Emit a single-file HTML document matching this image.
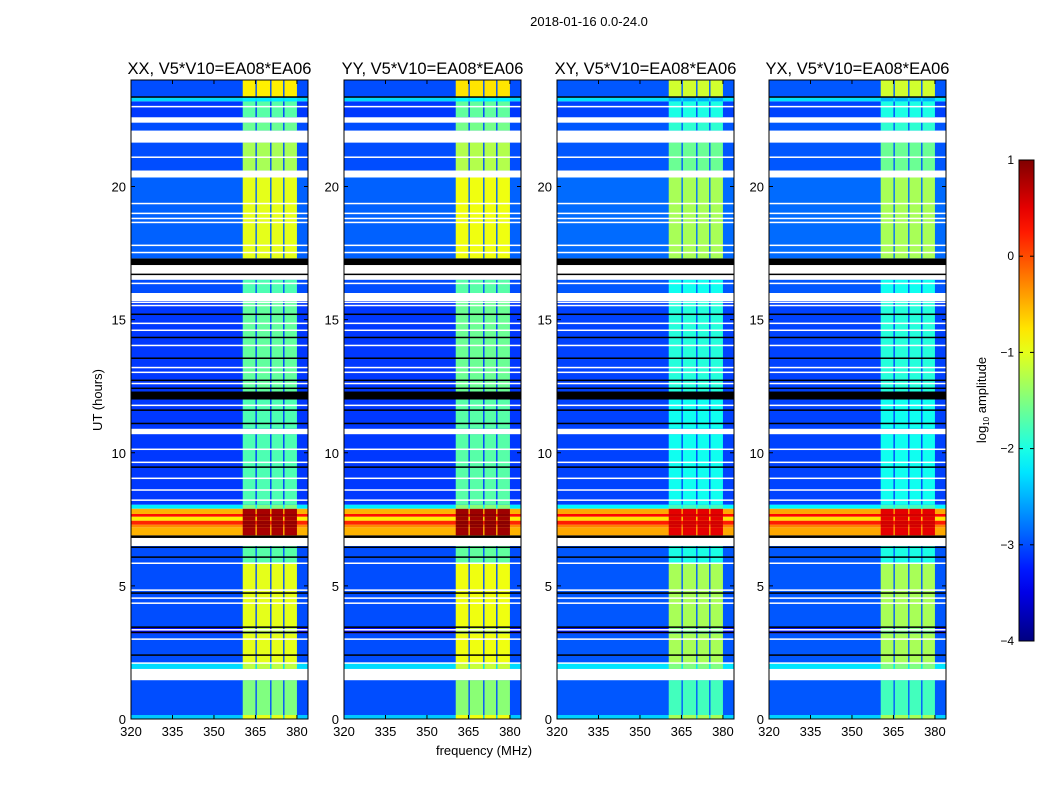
<!DOCTYPE html>
<html><head><meta charset="utf-8">
<style>
body{margin:0;background:#fff;}
svg{display:block;font-family:"Liberation Sans",sans-serif;}
</style></head>
<body>
<svg id="fig" width="1050" height="800" viewBox="0 0 1050 800" xmlns="http://www.w3.org/2000/svg">
<rect width="1050" height="800" fill="#fff"/>
<text x="589" y="26" font-size="13" text-anchor="middle">2018-01-16 0.0-24.0</text>
<text transform="translate(102,400) rotate(-90)" font-size="13" text-anchor="middle">UT (hours)</text>
<text x="484" y="755" font-size="13" text-anchor="middle">frequency (MHz)</text>
<g id="panels"></g>
<g id="cbar"></g>
</svg>
<script>
const NS="http://www.w3.org/2000/svg";
// ---- data ----
const panelTitles=["XX, V5*V10=EA08*EA06","YY, V5*V10=EA08*EA06","XY, V5*V10=EA08*EA06","YX, V5*V10=EA08*EA06"];
const panelLeft=[131,344,557,769];
const xTicks=[320,335,350,365,380];
const yTicks=[0,5,10,15,20];
const cbarTicks=[1,0,-1,-2,-3,-4];
const bandStarts=[360.4,365.5,370.8,375.5];
const bandEnds=[365.0,370.3,375.0,380.0];
// time segments: start hour, end hour, background log-amplitude, in-band log-amplitude (null = flagged/white, "K" = black)
const segStart=[0,0.15,1.46,1.88,2.1,3.2,3.45,5.85,6.5,6.8,6.9,7.2,7.3,7.45,7.6,7.7,7.9,8.05,10.7,10.9,12.0,12.3,15.7,16.0,16.5,17.05,17.3,20.34,20.6,21.65,22.1,22.4,22.6,23.2,23.34];
const segEnd=[0.15,1.46,1.88,2.1,3.2,3.45,5.85,6.5,6.8,6.9,7.2,7.3,7.45,7.6,7.7,7.9,8.05,10.7,10.9,12.0,12.3,15.7,16.0,16.5,17.05,17.3,20.34,20.6,21.65,22.1,22.4,22.6,23.2,23.34,24];
const segBg=[-2.4,-3.0,null,-2.3,-3.0,-3.3,-3.0,-3.0,null,"K",-0.5,-0.3,0.2,-0.8,0.3,-0.5,-2.2,-3.1,null,-3.1,"K",-3.1,null,-3.0,null,"K",-2.9,null,-3.0,null,-3.0,null,-3.1,-2.3,-3.0];
const segBand=[-1.0,-1.5,null,-1.2,-1.0,-1.2,-1.0,-1.7,null,"K",0.8,0.9,0.9,0.8,0.9,0.8,-1.5,-1.75,null,-1.75,"K",-1.65,null,-1.75,null,"K",-1.0,null,-1.3,null,-1.6,null,-1.7,-2.2,-0.8];
const bgOffset=[0,0,0.05,0.05];
const bandOffset=[0,0.05,-0.3,-0.3];
const whiteLines=[21.1,19.36,18.99,18.8,18.65,17.79,17.52,16.36,15.65,15.53,14.86,14.6,14.03,13.2,13.02,12.6,11.78,10.13,9.64,9.04,8.6,8.22,5.85,4.84,4.54,4.35,3.35,3.0,2.1,23.0];
const blackLines=[15.2,14.33,13.55,12.72,12.42,11.6,11.1,9.46,6.45,6.08,4.73,3.45,3.25,2.4,16.7,23.36];
// ---- scales ----
const F0=320,F1=384,H0=0,H1=24,PW=177,PT=80,PB=719;
const xs=(p,f)=>panelLeft[p]+(f-F0)/(F1-F0)*PW;
const ys=h=>PB-(h-H0)/(H1-H0)*(PB-PT);
function jet(v){let t=(v+4)/5;t=Math.max(0,Math.min(1,t));
 const c=x=>Math.round(255*Math.max(0,Math.min(1,x)));
 const r=c(Math.min(4*t-1.5,-4*t+4.5)),g=c(Math.min(4*t-0.5,-4*t+3.5)),b=c(Math.min(4*t+0.5,-4*t+2.5));
 return `rgb(${r},${g},${b})`;}
function mk(tag,attrs,parent){const e=document.createElementNS(NS,tag);for(const k in attrs)e.setAttribute(k,attrs[k]);parent.appendChild(e);return e;}
const G=document.getElementById('panels');
for(let p=0;p<4;p++){
 const g=mk('g',{},G);
 
 
 for(let i=0;i<segStart.length;i++){
  const y1=ys(segEnd[i]),y0=ys(segStart[i]),h=y0-y1;
  const bg=segBg[i],bd=segBand[i];
  let fill;
  if(bg===null)fill='#fff';else if(bg==='K')fill='#000';else fill=jet(bg+bgOffset[p]);
  const r=mk('rect',{x:xs(p,F0),y:y1,width:PW,height:h,fill:fill},g);
  
  
  if(typeof bd==='number'){
   for(let b=0;b<bandStarts.length;b++){
    const x0=xs(p,bandStarts[b]),x1=xs(p,bandEnds[b]);
    const br=mk('rect',{x:x0,y:y1,width:x1-x0,height:h,fill:jet(bd+bandOffset[p])},g);
    
    
   }
  }
 }
 for(const t of whiteLines){const l=mk('rect',{x:xs(p,F0),y:ys(t)-0.75,width:PW,height:1.5,fill:'#fff'},g);
  
  }
 for(const t of blackLines){const l=mk('rect',{x:xs(p,F0),y:ys(t)-0.75,width:PW,height:1.5,fill:'#000'},g);
  
  }
 const fr=mk('rect',{x:xs(p,F0),y:PT,width:PW,height:PB-PT,fill:'none',stroke:'#000','stroke-width':1},g);
 
 
 const tt=mk('text',{x:xs(p,F0)+PW/2,y:PT-6,'font-size':16.5,'text-anchor':'middle'},g);
 tt.textContent=panelTitles[p];
 
 
 for(const f of xTicks){const x=xs(p,f);
  mk('line',{x1:x,x2:x,y1:PB,y2:PB-4,stroke:'#000'},g);
  mk('line',{x1:x,x2:x,y1:PT,y2:PT+4,stroke:'#000'},g);
  const tx=mk('text',{x:x,y:PB+17,'font-size':13,'text-anchor':'middle'},g);
  tx.textContent=f;
  
  }
 for(const h of yTicks){const y=ys(h);
  mk('line',{x1:xs(p,F0),x2:xs(p,F0)+4,y1:y,y2:y,stroke:'#000'},g);
  mk('line',{x1:xs(p,F1),x2:xs(p,F1)-4,y1:y,y2:y,stroke:'#000'},g);
  const ty=mk('text',{x:xs(p,F0)-5,y:y+5,'font-size':13,'text-anchor':'end'},g);
  ty.textContent=h;
  
  }
}
// colorbar
const C=document.getElementById('cbar');
const CX=1019,CW=15,CT=160,CB=641,V0=-4,V1=1;
const cy=v=>CB-(v-V0)/(V1-V0)*(CB-CT);
const defs=mk('defs',{},C);
const grad=mk('linearGradient',{id:'jetg',x1:0,y1:1,x2:0,y2:0},defs);
for(let i=0;i<=20;i++){mk('stop',{offset:i/20,'stop-color':jet(V0+(V1-V0)*i/20)},grad);}
mk('rect',{x:CX,y:CT,width:CW,height:CB-CT,fill:'url(#jetg)',stroke:'#000'},C);
for(const v of cbarTicks){const y=cy(v);
 mk('line',{x1:CX,x2:CX+4,y1:y,y2:y,stroke:'#000'},C);
 mk('line',{x1:CX+CW,x2:CX+CW-4,y1:y,y2:y,stroke:'#000'},C);
 const t=mk('text',{x:CX-5,y:y+4,'font-size':12,'text-anchor':'end'},C);
 t.textContent=v<0?'\u2212'+(-v):v;
 
 }
const cl=mk('text',{transform:'translate(986,400) rotate(-90)','font-size':13,'text-anchor':'middle'},C);
cl.innerHTML='log<tspan font-size="8" dy="3">10</tspan><tspan dy="-3"> amplitude</tspan>';


</script>
</body></html>
